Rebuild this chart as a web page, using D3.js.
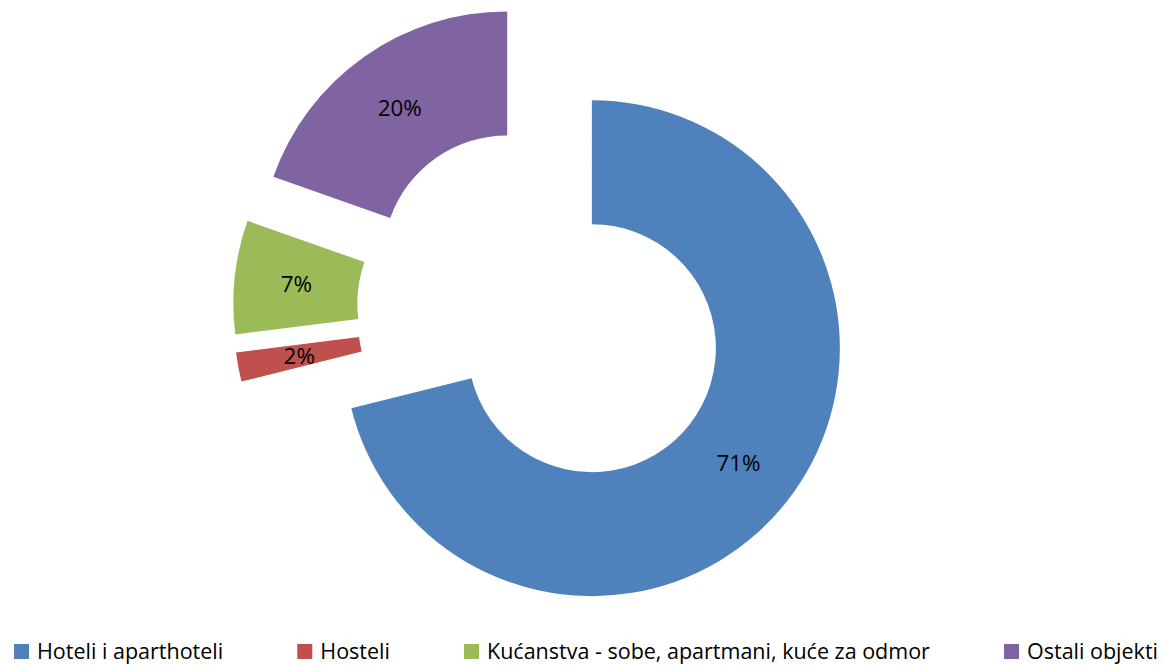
<!DOCTYPE html>
<html><head><meta charset="utf-8">
<script src="https://cdn.jsdelivr.net/npm/d3@7"></script>
<style>body{margin:0;background:#fff}</style>
</head><body>
<svg id="c" width="1165" height="665"></svg>
<script>
const categories = ["Hoteli i aparthoteli", "Hosteli", "Kućanstva - sobe, apartmani, kuće za odmor", "Ostali objekti"];
const values = [71.1, 1.9, 7.4, 19.6];
const labels = ["71%", "2%", "7%", "20%"];
const colors = ["#4F81BD", "#C0504D", "#9BBB59", "#8064A2"];

const W = 1165, H = 665;
const cx = 543, cy = 310, R = 248, r = 124, explode = 62;
const FONT = "Open Sans", FS = 22.4, LFS = 21.5;
const svg = d3.select("#c");

const pie = d3.pie().sort(null).value(d => d)(values);
const arc = d3.arc().innerRadius(r).outerRadius(R);

const g = svg.append("g").attr("transform", `translate(${cx},${cy})`);
const slices = g.selectAll("g.s").data(pie).join("g").attr("class", "s")
  .attr("transform", d => {
    const a = (d.startAngle + d.endAngle) / 2;
    return `translate(${explode * Math.sin(a)},${-explode * Math.cos(a)})`;
  });
slices.append("path").attr("d", arc).attr("fill", (d, i) => colors[i]);
slices.append("text")
  .attr("transform", d => `translate(${arc.centroid(d)})`)
  .attr("text-anchor", "middle").attr("dy", "0.36em")
  .attr("font-family", FONT).attr("font-size", FS).attr("fill", "#000")
  .text((d, i) => labels[i]);

// legend: spread between left and right limits
const lg = svg.append("g");
const sq = 15, pad = 8, left = 14, right = 1158, base = 659;
const items = lg.selectAll("g").data(categories).join("g");
items.append("rect").attr("width", sq).attr("height", sq).attr("y", -sq).attr("fill", (d, i) => colors[i]);
items.append("text").attr("x", sq + pad).attr("font-family", FONT).attr("font-size", LFS).attr("fill", "#000").text(d => d);
const ws = [];
items.each(function () { ws.push(sq + pad + d3.select(this).select("text").node().getComputedTextLength()); });
const gap = (right - left - d3.sum(ws)) / (ws.length - 1);
const xs = []; let x = left;
ws.forEach(w => { xs.push(x); x += w + gap; });
items.attr("transform", (d, i) => `translate(${xs[i]},${base})`);
</script>
</body></html>
